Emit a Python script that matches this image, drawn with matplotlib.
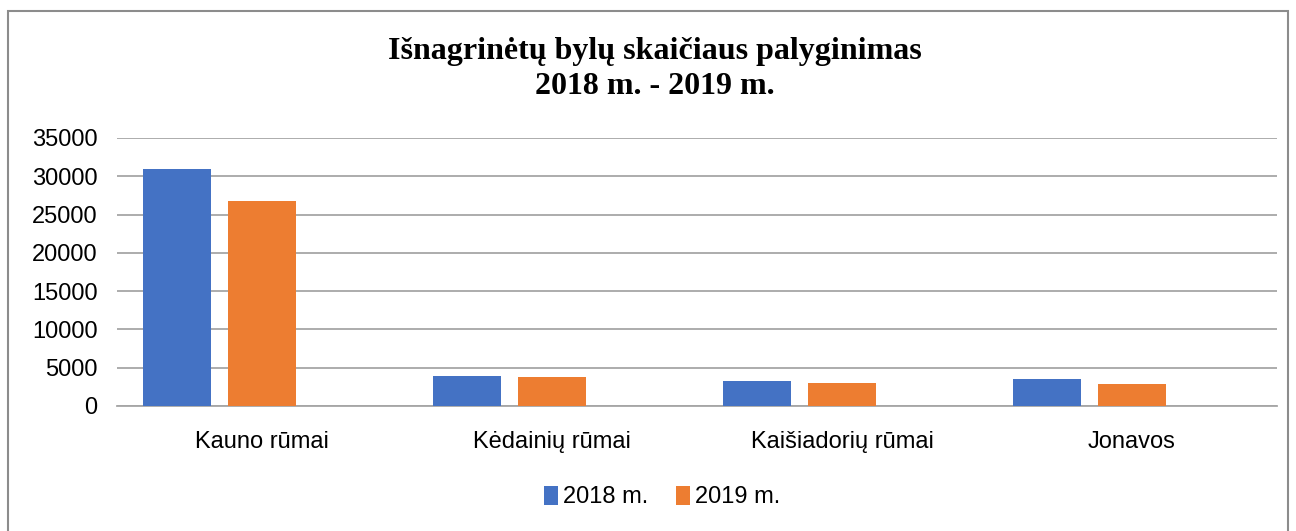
import matplotlib.pyplot as plt
import numpy as np
from matplotlib.patches import Rectangle

categories = ['Kauno rūmai', 'Kėdainių rūmai', 'Kaišiadorių rūmai', 'Jonavos']
values_2018 = [30900, 3900, 3200, 3500]
values_2019 = [26800, 3850, 3000, 2850]
series_labels = ['2018 m.', '2019 m.']
yticks = [0, 5000, 10000, 15000, 20000, 25000, 30000, 35000]

blue = '#4472C4'
orange = '#ED7D31'
grid_col = '#a6a6a6'
sans = ['Liberation Sans', 'DejaVu Sans']

fig = plt.figure(figsize=(12.96, 5.31), dpi=100)
fig.patches.append(Rectangle((8 / 1296, -0.1), 1280 / 1296, 1.1 - 11 / 531,
                             transform=fig.transFigure, fill=False,
                             edgecolor='#8c8c8c', linewidth=1.5))

ax = fig.add_axes([117 / 1296, 1 - 406 / 531, 1160 / 1296, 268 / 531])

x = np.arange(len(categories))
w = 68 / 290
step = 85 / 290
ax.bar(x - step, values_2018, width=w, color=blue, label=series_labels[0], zorder=3)
ax.bar(x, values_2019, width=w, color=orange, label=series_labels[1], zorder=3)

ax.set_xlim(-0.5, len(categories) - 0.5)
ax.set_ylim(0, 35000)
ax.set_yticks(yticks)
ax.set_yticklabels([str(t) for t in yticks], fontsize=17, family=sans)
ax.set_xticks(x)
ax.set_xticklabels(categories, fontsize=17, family=sans)
ax.tick_params(axis='y', length=0, pad=14)
ax.tick_params(axis='x', length=0, pad=18)
ax.yaxis.grid(True, color=grid_col, linewidth=1.3, zorder=0)
for s in ['top', 'right', 'left']:
    ax.spines[s].set_visible(False)
ax.spines['bottom'].set_color(grid_col)
ax.spines['bottom'].set_linewidth(1.3)

fig.text(655 / 1296, 1 - 52 / 531, 'Išnagrinėtų bylų skaičiaus palyginimas',
         ha='center', va='center', fontsize=23, fontweight='bold',
         family=['Liberation Serif', 'DejaVu Serif'])
fig.text(655 / 1296, 1 - 87 / 531, '2018 m. - 2019 m.',
         ha='center', va='center', fontsize=23, fontweight='bold',
         family=['Liberation Serif', 'DejaVu Serif'])

fig.legend(loc='center', bbox_to_anchor=(662 / 1296, 1 - 497 / 531), ncol=2,
           frameon=False, prop={'family': sans, 'size': 17},
           handlelength=0.6, handleheight=0.9, handletextpad=0.2, columnspacing=1.2)

fig.savefig('out.png', dpi=100)
